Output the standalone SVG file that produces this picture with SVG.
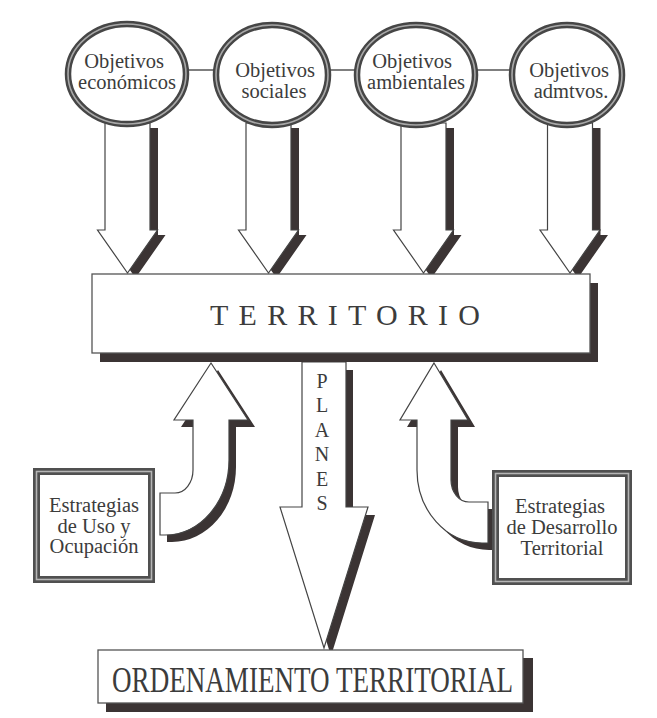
<svg xmlns="http://www.w3.org/2000/svg" width="657" height="718" viewBox="0 0 657 718">
<defs>
<style>
.bg{fill:#ffffff}
.arrow{fill:#ffffff;stroke:#444;stroke-width:1.2;stroke-linejoin:miter}
.shadow{fill:#3b3434;stroke:none}
.link{stroke:#555;stroke-width:1.5;fill:none}
.ringOuter{fill:#ffffff;stroke:#464646;stroke-width:6.5}
.ringMid{fill:none;stroke:#a8a8a8;stroke-width:1.6}
.frameOuter{fill:#ffffff;stroke:#505050;stroke-width:7}
.frameMid{fill:none;stroke:#b5b5b5;stroke-width:1.6}
.box{fill:#ffffff;stroke:#555;stroke-width:1.3}
.t{font-family:"Liberation Serif","Times New Roman",serif;fill:#3c3c3c}
.obj{font-size:20.5px;text-anchor:middle}
.est{font-size:20.5px;text-anchor:middle}
.pl{font-size:20px;text-anchor:middle}
</style>
<path id="down" d="M -22.5,123 L 22.5,123 L 22.5,230 L 30,230 L 0,273 L -30,230 L -22.5,230 Z"/>
<path id="curveL" d="M 211,363 L 248,420 L 229,420 L 229,460 A 64 75 0 0 1 165,535 L 160,535 L 160,493 L 175,493 A 18 23 0 0 0 193,470 L 193,420 L 174,420 Z"/>
<path id="curveR" d="M 434,363 L 468,420 L 451,420 L 451,480 A 18 22 0 0 0 469,502 L 488,502 L 488,543 L 482,543 A 65 73 0 0 1 417,470 L 417,420 L 400,420 Z"/>
<path id="planes" d="M 302,362 L 346,362 L 346,507 L 368,507 L 324,648 L 280,507 L 302,507 Z"/>
</defs>
<rect class="bg" x="0" y="0" width="657" height="718"/>

<g id="connectors">
  <line class="link" x1="186" y1="70" x2="218" y2="70"/>
  <line class="link" x1="326" y1="70" x2="358" y2="70"/>
  <line class="link" x1="474" y1="70" x2="513" y2="70"/>

  <g id="arrow-economicos" transform="translate(127.5,0)">
    <use href="#down" class="shadow" transform="translate(8,5)"/>
    <use href="#down" class="arrow"/>
  </g>
  <g id="arrow-sociales" transform="translate(268.5,0)">
    <use href="#down" class="shadow" transform="translate(8,5)"/>
    <use href="#down" class="arrow"/>
  </g>
  <g id="arrow-ambientales" transform="translate(423.5,0)">
    <use href="#down" class="shadow" transform="translate(8,5)"/>
    <use href="#down" class="arrow"/>
  </g>
  <g id="arrow-admtvos" transform="translate(570,0)">
    <use href="#down" class="shadow" transform="translate(8,5)"/>
    <use href="#down" class="arrow"/>
  </g>

  <g id="arrow-planes">
    <use href="#planes" class="shadow" transform="translate(7,8)"/>
    <use href="#planes" class="arrow"/>
    <text class="t pl" x="322" y="388">P</text>
    <text class="t pl" x="322" y="412.4">L</text>
    <text class="t pl" x="322" y="436.8">A</text>
    <text class="t pl" x="322" y="461.2">N</text>
    <text class="t pl" x="322" y="485.6">E</text>
    <text class="t pl" x="322" y="510">S</text>
  </g>

  <g id="arrow-uso">
    <use href="#curveL" class="shadow" transform="translate(7,7)"/>
    <use href="#curveL" class="arrow"/>
  </g>
  <g id="arrow-desarrollo">
    <use href="#curveR" class="shadow" transform="translate(7,7)"/>
    <use href="#curveR" class="arrow"/>
  </g>
</g>

<g id="obj-economicos">
  <ellipse class="ringOuter" cx="127" cy="74" rx="59" ry="50"/>
  <ellipse class="ringMid" cx="127" cy="74" rx="59" ry="50"/>
  <text class="t obj" x="124" y="68">Objetivos</text>
  <text class="t obj" x="127" y="89">económicos</text>
</g>
<g id="obj-sociales">
  <ellipse class="ringOuter" cx="272" cy="75" rx="56" ry="50"/>
  <ellipse class="ringMid" cx="272" cy="75" rx="56" ry="50"/>
  <text class="t obj" x="275" y="77">Objetivos</text>
  <text class="t obj" x="274" y="98">sociales</text>
</g>
<g id="obj-ambientales">
  <ellipse class="ringOuter" cx="416" cy="75" rx="59" ry="50"/>
  <ellipse class="ringMid" cx="416" cy="75" rx="59" ry="50"/>
  <text class="t obj" x="412" y="68">Objetivos</text>
  <text class="t obj" x="416" y="89">ambientales</text>
</g>
<g id="obj-admtvos">
  <ellipse class="ringOuter" cx="567" cy="75" rx="55" ry="50"/>
  <ellipse class="ringMid" cx="567" cy="75" rx="55" ry="50"/>
  <text class="t obj" x="569" y="77">Objetivos</text>
  <text class="t obj" x="571" y="98">admtvos.</text>
</g>

<g id="territorio">
  <rect class="shadow" x="100" y="283" width="498" height="79"/>
  <rect class="box" x="92" y="274" width="498" height="79"/>
  <text class="t" x="210" y="325" font-size="30" textLength="270" lengthAdjust="spacing">TERRITORIO</text>
</g>

<g id="estrategias-uso">
  <rect class="frameOuter" x="36.5" y="471.5" width="115" height="108"/>
  <rect class="frameMid" x="36.5" y="471.5" width="115" height="108"/>
  <text class="t est" x="94" y="512">Estrategias</text>
  <text class="t est" x="94" y="533">de Uso y</text>
  <text class="t est" x="94" y="553">Ocupación</text>
</g>

<g id="estrategias-desarrollo">
  <rect class="frameOuter" x="495.5" y="473.5" width="133" height="108"/>
  <rect class="frameMid" x="495.5" y="473.5" width="133" height="108"/>
  <text class="t est" x="560" y="513">Estrategias</text>
  <text class="t est" x="562" y="534">de Desarrollo</text>
  <text class="t est" x="562" y="555">Territorial</text>
</g>

<g id="ordenamiento">
  <rect class="shadow" x="106" y="658" width="427" height="54"/>
  <rect class="box" x="98" y="650" width="425" height="53"/>
  <text class="t" x="112" y="692" font-size="35" textLength="401" lengthAdjust="spacingAndGlyphs">ORDENAMIENTO TERRITORIAL</text>
</g>
</svg>
